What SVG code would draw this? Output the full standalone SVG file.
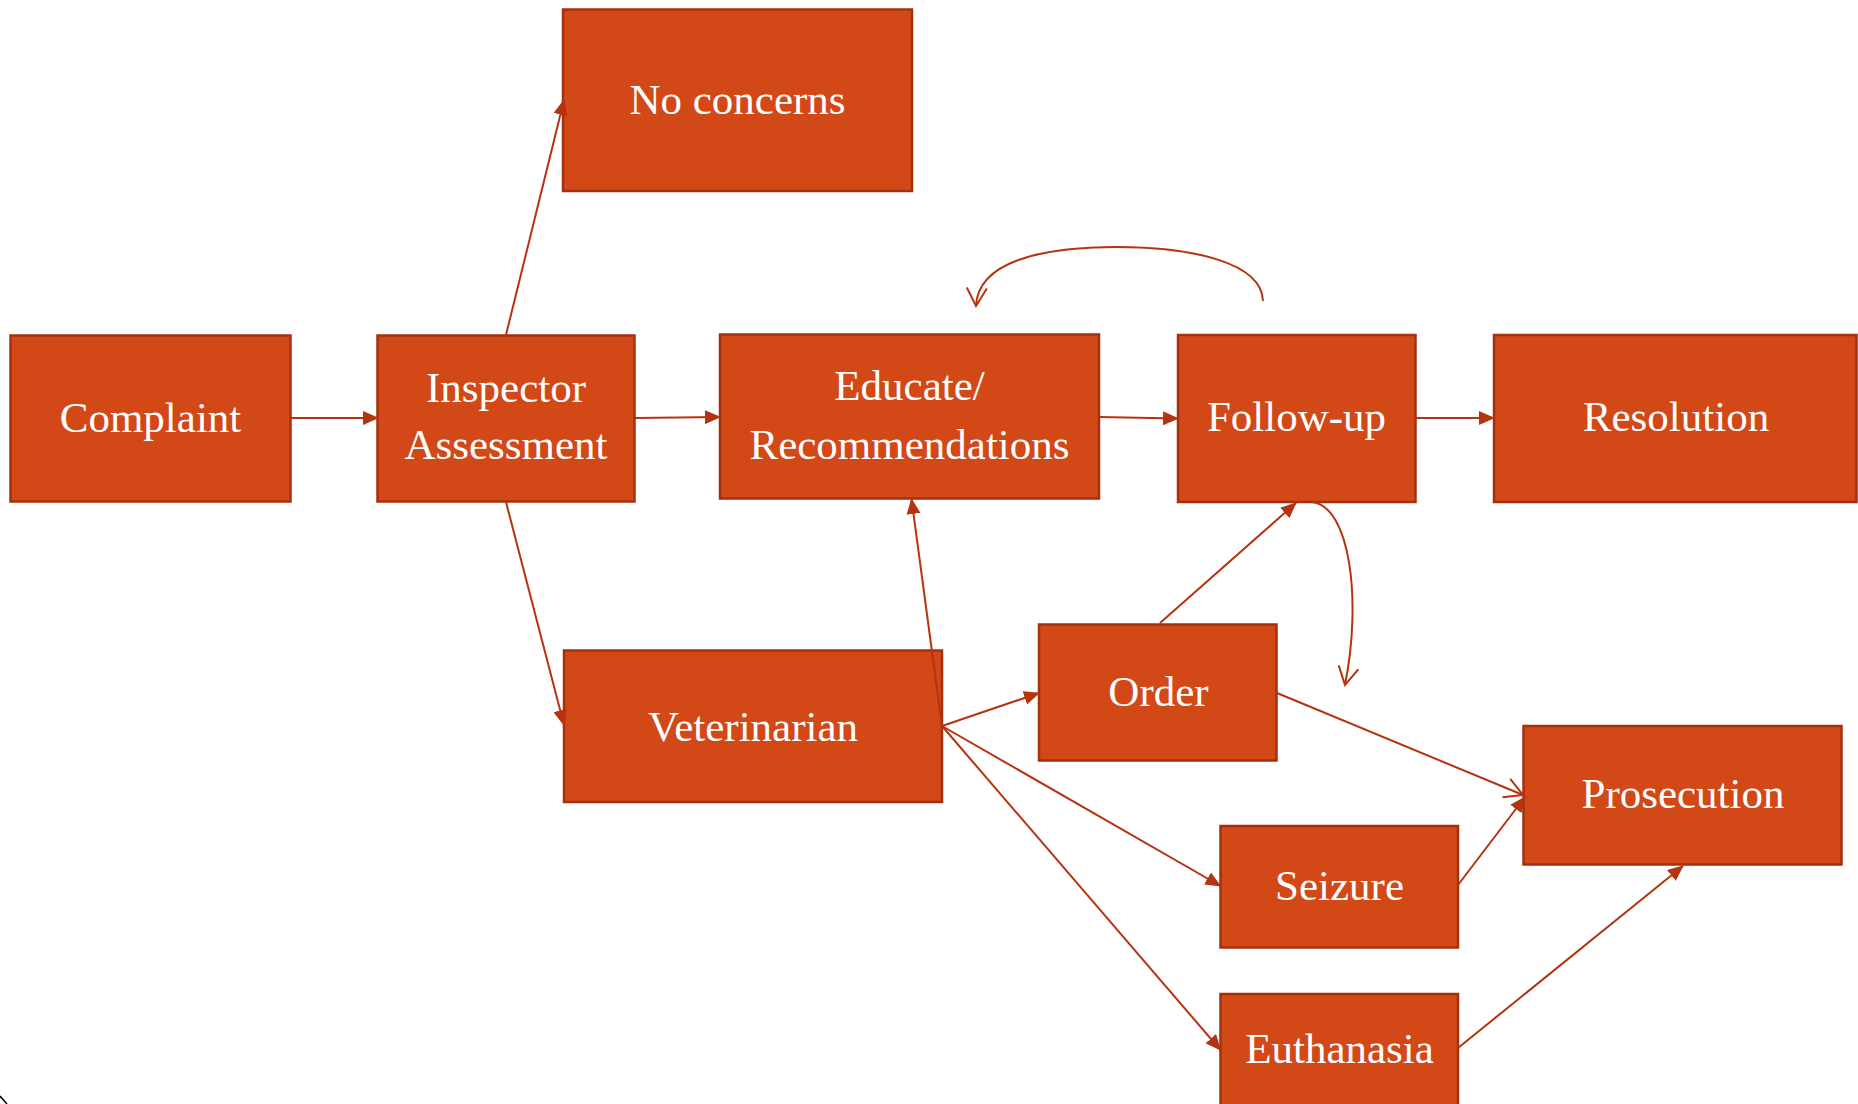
<svg xmlns="http://www.w3.org/2000/svg" width="1858" height="1104" viewBox="0 0 1858 1104">
<style>
.box{fill:#D24817;stroke:#A5300F;stroke-width:2.5}
.lbl{font-family:"Liberation Serif","Times New Roman",serif;font-size:43px;fill:#FFFFFF;text-anchor:middle}
.con{fill:none;stroke:#B5330F;stroke-width:2}
</style>
<defs>
<marker id="fa" markerUnits="userSpaceOnUse" markerWidth="16" markerHeight="14" viewBox="0 0 16 14" refX="15" refY="7" orient="auto">
<path d="M0,0 L16,7 L0,14 Z" fill="#B5330F"/>
</marker>
<marker id="oa" markerUnits="userSpaceOnUse" markerWidth="22" markerHeight="24" viewBox="0 0 22 24" refX="20" refY="12" orient="auto">
<path d="M2,2 L20,12 L2,22" fill="none" stroke="#B5330F" stroke-width="2"/>
</marker>
</defs>
<rect width="1858" height="1104" fill="#FFFFFF"/>
<g id="complaint"><rect class="box" x="10.5" y="335.5" width="280" height="166"/><text class="lbl" x="150.5" y="431.5">Complaint</text></g>
<g id="inspector"><rect class="box" x="377.5" y="335.5" width="257" height="166"/><text class="lbl" x="506" y="401.5">Inspector</text><text class="lbl" x="506" y="459">Assessment</text></g>
<g id="noconcerns"><rect class="box" x="563" y="9.5" width="349" height="181.5"/><text class="lbl" x="737.5" y="113.5">No concerns</text></g>
<g id="educate"><rect class="box" x="720" y="334.5" width="379" height="164"/><text class="lbl" x="909.5" y="400">Educate/</text><text class="lbl" x="909.5" y="458.5">Recommendations</text></g>
<g id="followup"><rect class="box" x="1178" y="335" width="237.5" height="167"/><text class="lbl" x="1296.5" y="430.5">Follow-up</text></g>
<g id="resolution"><rect class="box" x="1494" y="335" width="362.5" height="167"/><text class="lbl" x="1676" y="430.5">Resolution</text></g>
<g id="veterinarian"><rect class="box" x="564" y="650.5" width="378" height="151.5"/><text class="lbl" x="753" y="740.5">Veterinarian</text></g>
<g id="order"><rect class="box" x="1039" y="624.5" width="237.5" height="136"/><text class="lbl" x="1158.5" y="705.5">Order</text></g>
<g id="prosecution"><rect class="box" x="1523.5" y="726" width="318" height="138.5"/><text class="lbl" x="1683" y="807.5">Prosecution</text></g>
<g id="seizure"><rect class="box" x="1220.5" y="826" width="237.5" height="121.5"/><text class="lbl" x="1339.5" y="900">Seizure</text></g>
<g id="euthanasia"><rect class="box" x="1220.5" y="994" width="237.5" height="130"/><text class="lbl" x="1339.5" y="1062.5">Euthanasia</text></g>
<g id="connectors">
<line class="con" x1="290" y1="418" x2="378" y2="418" marker-end="url(#fa)"/>
<line class="con" x1="635" y1="418" x2="720" y2="417" marker-end="url(#fa)"/>
<line class="con" x1="506" y1="335" x2="564" y2="100" marker-end="url(#fa)"/>
<line class="con" x1="506" y1="502" x2="564" y2="725" marker-end="url(#fa)"/>
<line class="con" x1="1099" y1="417" x2="1178" y2="418.5" marker-end="url(#fa)"/>
<line class="con" x1="1415" y1="418" x2="1494" y2="418" marker-end="url(#fa)"/>
<path class="con" d="M1263,301 C1262,262 1190,247 1117,247 C1040,247 978,262 976,306" marker-end="url(#oa)"/>
<path class="con" d="M1312,502 C1350,506 1362,600 1345,685" marker-end="url(#oa)"/>
<line class="con" x1="1160" y1="623" x2="1296" y2="503" marker-end="url(#fa)"/>
<line class="con" x1="942" y1="726" x2="1039" y2="693" marker-end="url(#fa)"/>
<line class="con" x1="942" y1="726" x2="911.5" y2="499" marker-end="url(#fa)"/>
<line class="con" x1="942" y1="726" x2="1220.5" y2="886" marker-end="url(#fa)"/>
<line class="con" x1="942" y1="726" x2="1220.5" y2="1050" marker-end="url(#fa)"/>
<line class="con" x1="1277" y1="693" x2="1523" y2="795" marker-end="url(#oa)"/>
<line class="con" x1="1458" y1="885" x2="1525" y2="797" marker-end="url(#fa)"/>
<line class="con" x1="1458" y1="1048" x2="1683" y2="866" marker-end="url(#fa)"/>
</g>
<path d="M0,1096 L7,1104" stroke="#000000" stroke-width="1.5" fill="none"/>
</svg>
